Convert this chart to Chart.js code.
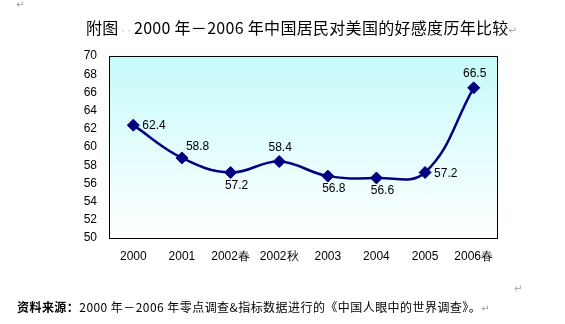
<!DOCTYPE html>
<html>
<head>
<meta charset="utf-8">
<script src="https://cdn.jsdelivr.net/npm/chart.js@4"></script>
<style>
  html, body { margin: 0; padding: 0; background: #fff; }
  #wrap { position: relative; width: 565px; height: 324px; overflow: hidden; }
  #chart { position: absolute; left: 0; top: 0; }
  .txt { position: absolute; white-space: nowrap; color: #000;
         font-family: "Noto Sans CJK SC", "DejaVu Sans", sans-serif; }
  .mark { color: #a0a0a0; font-size: 10px; letter-spacing: 0; }
  .dots { color: #a0a0a0; font-family: "DejaVu Sans", sans-serif; font-size: 10px;
          letter-spacing: 3px; margin-left: 3px; }
  #title { left: 86px; top: 16px; font-size: 16px; line-height: 22px; letter-spacing: 0.3px; }
  #source { left: 17px; top: 299px; font-size: 12px; line-height: 16px; letter-spacing: 0.45px; }
  #source b { font-weight: 700; }
</style>
</head>
<body>
<div id="wrap">
  <canvas id="chart" width="565" height="324"></canvas>
  <div class="txt mark" style="left:16px;top:-4px;">↵</div>
  <div id="title" class="txt">附图<span class="dots">··</span>2000 年－2006 年中国居民对美国的好感度历年比较<span class="mark">↵</span></div>
  <div class="txt mark" style="left:514px;top:280px;">↵</div>
  <div id="source" class="txt"><b>资料来源：</b>2000 年－2006 年零点调查&amp;指标数据进行的《中国人眼中的世界调查》。<span class="mark">↵</span></div>
</div>
<script>
// 数据
const years  = ['2000', '2001', '2002春', '2002秋', '2003', '2004', '2005', '2006春'];
const scores = [62.4, 58.8, 57.2, 58.4, 56.8, 56.6, 57.2, 66.5];
const yTicks = [50, 52, 54, 56, 58, 60, 62, 64, 66, 68, 70];

// 标签位置 (Excel 式)
const labelSide = ['right', 'aboveRight', 'below', 'above', 'below', 'below', 'right', 'above'];

const NAVY = '#000080';
const AXIS_FONT = "12px 'Liberation Sans', Arial, sans-serif";

// 绘图区背景渐变 + 边框
const plotBox = {
  id: 'plotBox',
  beforeDatasetsDraw(chart) {
    const { ctx, chartArea: a } = chart;
    ctx.save();
    const g = ctx.createLinearGradient(0, a.top, 0, a.bottom);
    g.addColorStop(0, '#c6fafa');
    g.addColorStop(1, '#ffffff');
    ctx.fillStyle = g;
    ctx.fillRect(a.left, a.top, a.right - a.left, a.bottom - a.top);
    ctx.strokeStyle = '#000';
    ctx.lineWidth = 1;
    ctx.strokeRect(a.left + 0.5, a.top + 0.5, a.right - a.left - 1, a.bottom - a.top);
    ctx.restore();
  },
};

// 数据标签
const valueLabels = {
  id: 'valueLabels',
  afterDatasetsDraw(chart) {
    const { ctx } = chart;
    const pts = chart.getDatasetMeta(0).data;
    ctx.save();
    ctx.font = AXIS_FONT;
    ctx.fillStyle = '#000';
    ctx.textBaseline = 'middle';
    pts.forEach((p, i) => {
      const txt = scores[i].toFixed(1);
      const side = labelSide[i];
      if (side === 'right') {
        ctx.textAlign = 'left';
        ctx.fillText(txt, p.x + 9, p.y + 1);
      } else if (side === 'aboveRight') {
        ctx.textAlign = 'left';
        ctx.fillText(txt, p.x + 4, p.y - 11);
      } else if (side === 'above') {
        ctx.textAlign = 'center';
        ctx.fillText(txt, p.x + 1, p.y - 14);
      } else {
        ctx.textAlign = 'center';
        ctx.fillText(txt, p.x + 6, p.y + 13);
      }
    });
    ctx.restore();
  },
};

new Chart(document.getElementById('chart'), {
  type: 'line',
  data: {
    labels: years,
    datasets: [{
      data:             scores,
      borderColor:      NAVY,
      backgroundColor:  NAVY,
      borderWidth:      2.5,
      tension:          0.4,
      pointStyle:       'rectRot',
      pointRadius:      6,
      pointBackgroundColor: NAVY,
      pointBorderColor: NAVY,
      pointBorderWidth: 1,
      fill:             false,
      clip:             false,
    }],
  },
  options: {
    responsive: false,
    animation: false,
    devicePixelRatio: 1,
    layout: { padding: { left: 79, right: 67, top: 56, bottom: 56 } },
    plugins: {
      legend:  { display: false },
      tooltip: { enabled: false },
    },
    scales: {
      x: {
        offset: true,
        grid: { display: false, drawTicks: false },
        border: { display: false },
        ticks: {
          color: '#000',
          font: { family: "'Liberation Sans', Arial, sans-serif", size: 12 },
          padding: 11,
          maxRotation: 0,
          autoSkip: false,
        },
        afterFit: (s) => { s.height = 30; },
      },
      y: {
        min: 50,
        max: 70,
        afterBuildTicks: (s) => { s.ticks = yTicks.map((v) => ({ value: v })); },
        grid: { display: false, drawTicks: false },
        border: { display: false },
        ticks: {
          color: '#000',
          font: { family: "'Liberation Sans', Arial, sans-serif", size: 12 },
          padding: 12,
        },
        afterFit: (s) => { s.width = 30; },
      },
    },
  },
  plugins: [plotBox, valueLabels],
});
</script>
</body>
</html>
